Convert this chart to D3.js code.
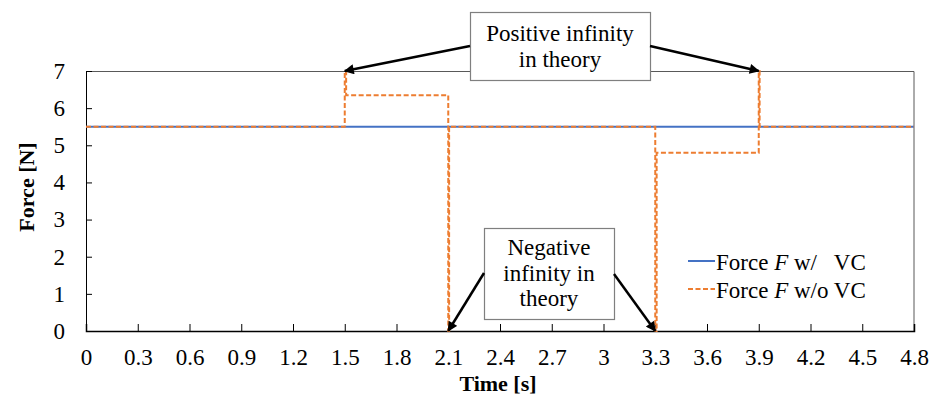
<!DOCTYPE html>
<html>
<head>
<meta charset="utf-8">
<script src="https://cdn.jsdelivr.net/npm/d3@7"></script>
<style>
  body { margin: 0; background: #fff; }
  svg text { font-family: "Liberation Serif", "Times New Roman", serif; }
</style>
</head>
<body>
<div id="chart"></div>
<script>
// force with velocity compensation (flat)
const timeWithVC = [0, 4.8];
const forceWithVC = [5.5, 5.5];

// force without compensation (steps, spikes at switch points)
const timeNoVC = [0, 1.5, 1.5, 1.508, 1.508, 2.1, 2.1, 2.105, 2.105, 3.3, 3.3, 3.308, 3.308, 3.9, 3.9, 3.905, 3.905, 4.8];
const forceNoVC = [5.5, 5.5, 7, 7, 6.35, 6.35, 0, 0, 5.5, 5.5, 0, 0, 4.8, 4.8, 7, 7, 5.5, 5.5];

const xTicks = [0, 0.3, 0.6, 0.9, 1.2, 1.5, 1.8, 2.1, 2.4, 2.7, 3, 3.3, 3.6, 3.9, 4.2, 4.5, 4.8];
const yTicks = [0, 1, 2, 3, 4, 5, 6, 7];

const legendLabels = ["w/\u00a0\u00a0 VC", "w/o VC"];

const annotations = [
    {lines: ["Positive infinity", "in theory"], box: [470, 12, 180, 68], lineY: [41, 67],
     arrows: [{from: [470, 46], to: [1.5, 7]}, {from: [650, 46], to: [3.9, 7]}]},
    {lines: ["Negative", "infinity in", "theory"], box: [484, 228, 130, 91], lineY: [255, 281, 306],
     arrows: [{from: [484, 273], to: [2.1, 0]}, {from: [614, 274], to: [3.3, 0]}]}
];

const fs = 23;

var margin = {top: 71, right: 15, bottom: 69, left: 86},
    width = 929 - margin.left - margin.right,
    height = 400 - margin.top - margin.bottom;

var svg = d3.select("#chart")
    .append("svg")
    .attr("width", 929)
    .attr("height", 400);

svg.append("defs").append("marker")
    .attr("id", "head")
    .attr("viewBox", "0 0 10 10")
    .attr("refX", 9)
    .attr("refY", 5)
    .attr("markerWidth", 4.5)
    .attr("markerHeight", 4)
    .attr("markerUnits", "strokeWidth")
    .attr("orient", "auto")
    .append("path")
    .attr("d", "M0,0 L10,5 L0,10 Z")
    .attr("fill", "#000");

var g = svg.append("g")
    .attr("transform", "translate(" + margin.left + "," + margin.top + ")");

var x = d3.scaleLinear().domain([0, 4.8]).range([0, width]);
var y = d3.scaleLinear().domain([0, 7]).range([height, 0]);

// frame top / right
g.append("path")
    .attr("d", "M0,0.5H" + width + "V" + height)
    .attr("fill", "none")
    .attr("stroke", "#595959")
    .attr("stroke-width", 1);

// y axis, ticks pointing inward
var yAxis = g.append("g")
    .call(d3.axisRight(y).tickValues(yTicks).tickSize(6).tickFormat(d3.format("d")));
yAxis.select(".domain").attr("stroke", "#000");
yAxis.selectAll("text")
    .attr("x", -21)
    .attr("text-anchor", "end")
    .attr("font-size", fs)
    .attr("fill", "#000")
    .attr("font-family", "Liberation Serif");

// x axis, ticks pointing inward
var xAxis = g.append("g")
    .attr("transform", "translate(0," + height + ")")
    .call(d3.axisTop(x).tickValues(xTicks).tickSize(7).tickFormat(d => d3.format("")(+d.toFixed(1))));
xAxis.select(".domain").attr("stroke", "#000").attr("stroke-width", 1.5);
xAxis.selectAll("text")
    .attr("y", 34)
    .attr("dy", 0)
    .attr("font-size", fs)
    .attr("fill", "#000")
    .attr("font-family", "Liberation Serif");

// axis titles
svg.append("text")
    .attr("transform", "translate(34,187) rotate(-90)")
    .attr("text-anchor", "middle")
    .attr("font-size", 22)
    .attr("font-weight", "bold")
    .text("Force [N]");

svg.append("text")
    .attr("x", 498)
    .attr("y", 391)
    .attr("text-anchor", "middle")
    .attr("font-size", 22)
    .attr("font-weight", "bold")
    .text("Time [s]");

// lines
var line = d3.line().x(d => x(d[0])).y(d => y(d[1]));

g.append("path")
    .datum(timeWithVC.map((t, i) => [t, forceWithVC[i]]))
    .attr("fill", "none")
    .attr("stroke", "#4472C4")
    .attr("stroke-width", 2)
    .attr("d", line);

g.append("path")
    .datum(timeNoVC.map((t, i) => [t, forceNoVC[i]]))
    .attr("fill", "none")
    .attr("stroke", "#ED7D31")
    .attr("stroke-width", 2)
    .attr("stroke-dasharray", "5,2.5")
    .attr("d", line);

// legend
var legend = svg.append("g");
[["#4472C4", null, 261], ["#ED7D31", "5,2.5", 289]].forEach((s, i) => {
    legend.append("line")
        .attr("x1", 688).attr("x2", 715)
        .attr("y1", s[2]).attr("y2", s[2])
        .attr("stroke", s[0])
        .attr("stroke-width", 2)
        .attr("stroke-dasharray", s[1]);
    var t = legend.append("text")
        .attr("x", 716)
        .attr("y", s[2] + 9)
        .attr("font-size", fs);
    t.append("tspan").text("Force ");
    t.append("tspan").attr("font-style", "italic").text("F");
    t.append("tspan").text(" " + legendLabels[i]);
});

// annotation boxes and arrows
annotations.forEach(a => {
    var ag = svg.append("g");
    ag.append("rect")
        .attr("x", a.box[0] + 0.5)
        .attr("y", a.box[1] + 0.5)
        .attr("width", a.box[2])
        .attr("height", a.box[3])
        .attr("fill", "#fff")
        .attr("stroke", "#7f7f7f")
        .attr("stroke-width", 1.2);
    a.lines.forEach((l, i) => {
        ag.append("text")
            .attr("x", a.box[0] + a.box[2] / 2)
            .attr("y", a.lineY[i])
            .attr("text-anchor", "middle")
            .attr("font-size", fs)
            .text(l);
    });
    a.arrows.forEach(ar => {
        ag.append("line")
            .attr("x1", ar.from[0])
            .attr("y1", ar.from[1])
            .attr("x2", margin.left + x(ar.to[0]))
            .attr("y2", margin.top + y(ar.to[1]))
            .attr("stroke", "#000")
            .attr("stroke-width", 2.5)
            .attr("marker-end", "url(#head)");
    });
});
</script>
</body>
</html>
